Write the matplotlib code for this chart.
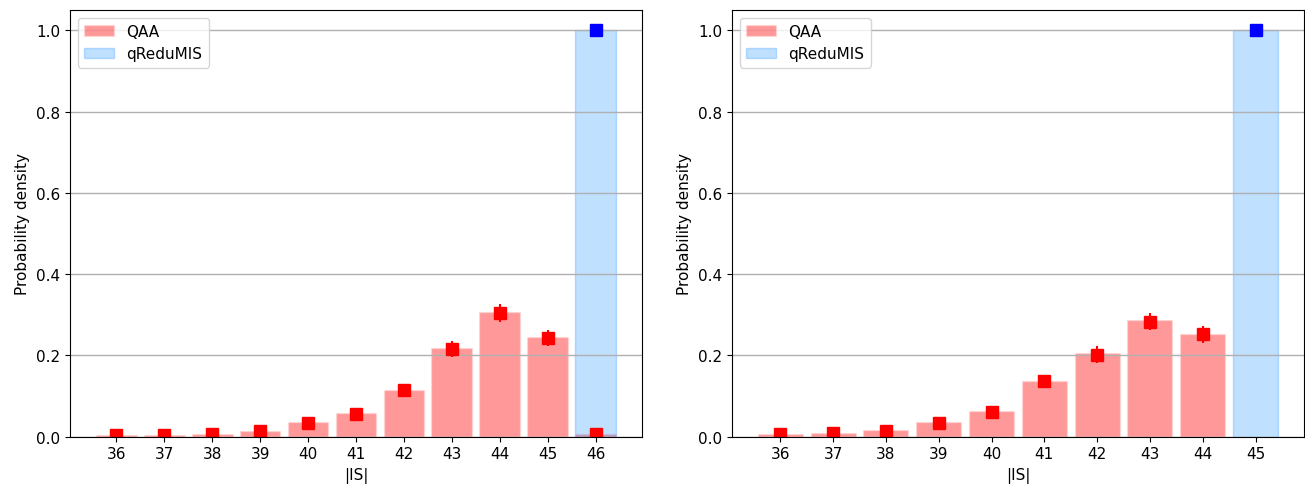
import numpy as np
import matplotlib
matplotlib.use("Agg")
import matplotlib.pyplot as plt

plt.rcParams["font.size"] = 11

# Left panel
sizes_a = [36, 37, 38, 39, 40, 41, 42, 43, 44, 45, 46]
qaa_bar_a = [0.004, 0.004, 0.007, 0.015, 0.037, 0.058, 0.116, 0.218, 0.307, 0.246, 0.007]
qaa_mean_a = [0.003, 0.003, 0.006, 0.014, 0.034, 0.056, 0.115, 0.215, 0.305, 0.243, 0.007]
qaa_err_a = [0.003, 0.003, 0.004, 0.006, 0.008, 0.010, 0.014, 0.020, 0.022, 0.020, 0.004]
red_size_a = 46
red_bar_a = 1.0
red_mean_a = 1.0

# Right panel
sizes_b = [36, 37, 38, 39, 40, 41, 42, 43, 44]
qaa_bar_b = [0.007, 0.010, 0.017, 0.036, 0.064, 0.138, 0.205, 0.286, 0.253]
qaa_mean_b = [0.007, 0.009, 0.015, 0.034, 0.061, 0.136, 0.202, 0.283, 0.252]
qaa_err_b = [0.003, 0.004, 0.005, 0.007, 0.010, 0.016, 0.021, 0.021, 0.021]
red_size_b = 45
red_bar_b = 1.0
red_mean_b = 1.0

fig, axes = plt.subplots(1, 2, figsize=(13.05, 4.89), dpi=100)
fig.subplots_adjust(left=0.0536, right=0.9992, top=0.9775, bottom=0.105, wspace=0.157)

panels = [
    (axes[0], sizes_a, qaa_bar_a, qaa_mean_a, qaa_err_a, red_size_a, red_bar_a, red_mean_a),
    (axes[1], sizes_b, qaa_bar_b, qaa_mean_b, qaa_err_b, red_size_b, red_bar_b, red_mean_b),
]

for ax, sz, bars, means, errs, rs, rb, rm in panels:
    ax.bar(sz, bars, width=0.85, color="red", alpha=0.4, edgecolor=(1, 0.85, 0.85), linewidth=1, label="QAA")
    ax.bar([rs], [rb], width=0.85, color="dodgerblue", alpha=0.28, edgecolor="dodgerblue", linewidth=1, label="qReduMIS")
    ax.errorbar(sz, means, yerr=errs, fmt="s", color="red", markersize=8, elinewidth=1.5, capsize=0)
    ax.plot([rs], [rm], "s", color="blue", markersize=8)
    ax.set_xticks(list(range(min(sz), max(max(sz), rs) + 1)))
    ax.set_xlabel("|IS|")
    ax.set_ylabel("Probability density")
    ax.yaxis.grid(True, color="#b0b0b0", linewidth=1)
    ax.legend(loc="upper left")

fig.savefig("out.png", dpi=100)
